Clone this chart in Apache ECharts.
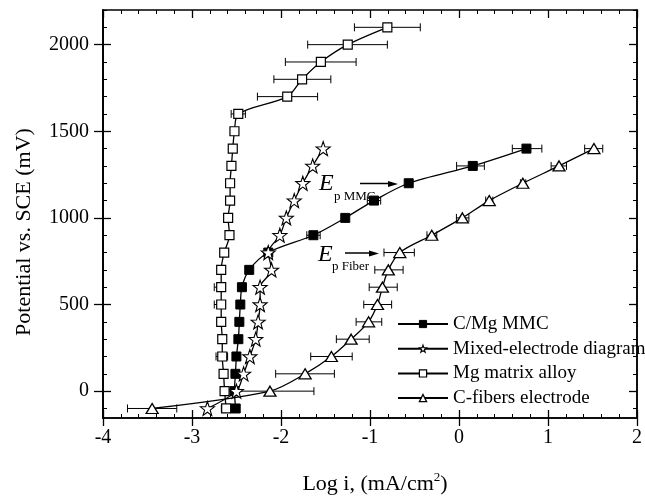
<!DOCTYPE html>
<html><head><meta charset="utf-8">
<script src="https://cdn.jsdelivr.net/npm/echarts@6/dist/echarts.min.js"></script>
<style>html,body{margin:0;padding:0;background:#fff}#c{width:645px;height:497px}</style>
</head><body><div id="c"></div><script>
// ---- data (potential in mV, log i in mA/cm2) ----
const potMg = [-100,0,100,200,300,400,500,600,700,800,900,1000,1100,1200,1300,1400,1500,1600,1700,1800,1900,2000,2100];
const xMg   = [-2.616,-2.634,-2.645,-2.66,-2.66,-2.672,-2.672,-2.672,-2.672,-2.638,-2.579,-2.594,-2.572,-2.572,-2.557,-2.542,-2.523,-2.48,-1.93,-1.763,-1.552,-1.25,-0.805];
const loMg  = [-2.67,null,-2.68,-2.73,-2.69,null,-2.75,-2.75,null,-2.67,-2.61,-2.62,-2.60,-2.60,-2.59,-2.57,-2.55,-2.56,-2.265,-2.08,-1.951,-1.70,-1.175];
const hiMg  = [-2.56,null,-2.61,-2.60,-2.63,null,-2.63,-2.63,null,-2.61,-2.55,-2.57,-2.54,-2.54,-2.52,-2.51,-2.49,-2.40,-1.589,-1.44,-1.156,-0.805,-0.435];

const potMMC = [-100,0,100,200,300,400,500,600,700,800,900,1000,1100,1200,1300,1400];
const xMMC   = [-2.509,-2.523,-2.512,-2.501,-2.479,-2.468,-2.457,-2.439,-2.357,-2.143,-1.636,-1.278,-0.955,-0.565,0.155,0.758];
const loMMC  = [null,null,null,null,null,null,null,null,null,null,-1.71,null,-1.03,null,-0.027,0.599];
const hiMMC  = [null,null,null,null,null,null,null,null,null,null,-1.56,null,-0.88,null,0.285,0.931];

const potMix = [-100,0,100,200,300,400,500,600,700,800,900,1000,1100,1200,1300,1400];
const xMix   = [-2.827,-2.501,-2.42,-2.35,-2.284,-2.257,-2.235,-2.235,-2.106,-2.143,-2.013,-1.94,-1.851,-1.755,-1.644,-1.526];

const potFib = [-100,0,100,200,300,400,500,600,700,800,900,1000,1100,1200,1300,1400];
const xFib   = [-3.448,-2.124,-1.729,-1.434,-1.212,-1.016,-0.916,-0.86,-0.794,-0.665,-0.306,0.038,0.34,0.717,1.124,1.516];
const loFib  = [-3.725,-2.62,-2.06,-1.666,-1.378,-1.156,-1.07,-1.009,-0.946,-0.843,-0.36,-0.029,0.30,0.69,1.035,1.412];
const hiFib  = [-3.171,-1.63,-1.40,-1.20,-1.009,-0.868,-0.757,-0.694,-0.628,-0.502,-0.25,0.111,0.38,0.75,1.208,1.615];

const seriesNames = ['C/Mg MMC','Mixed-electrode diagram','Mg matrix alloy','C-fibers electrode'];
const yMajorTicks = [0,500,1000,1500,2000];
const yMinorTicks = [-100,0,100,200,300,400,500,600,700,800,900,1000,1100,1200,1300,1400,1500,1600,1700,1800,1900,2000,2100,2200];
const xLabel = 'Log i, (mA/cm';
const yLabel = 'Potential vs. SCE (mV)';

// ---- build ----
const pts = (xs, ys) => xs.map((x,i)=>[x, ys[i]]);
const errs = (ys, lo, hi) => { const o=[]; ys.forEach((y,i)=>{ if(lo[i]!=null) o.push([y,lo[i],hi[i]]); }); return o; };
const FONT = 'Liberation Serif';
const starPath = 'path://M0,-10L2.35,-3.24L9.51,-3.09L3.8,1.24L5.88,8.09L0,4L-5.88,8.09L-3.8,1.24L-9.51,-3.09L-2.35,-3.24Z';

function renderErr(params, api){
  const y = api.value(0), lo = api.value(1), hi = api.value(2);
  const p1 = api.coord([lo,y]), p2 = api.coord([hi,y]);
  const h = 4, st = {stroke:'#000', lineWidth:1};
  return {type:'group', children:[
    {type:'line', shape:{x1:p1[0],y1:p1[1],x2:p2[0],y2:p2[1]}, style:st},
    {type:'line', shape:{x1:p1[0],y1:p1[1]-h,x2:p1[0],y2:p1[1]+h}, style:st},
    {type:'line', shape:{x1:p2[0],y1:p2[1]-h,x2:p2[0],y2:p2[1]+h}, style:st}
  ]};
}
const errSeries = (data) => ({type:'custom', renderItem:renderErr, data:data, encode:{x:[1,2], y:0}, z:1, silent:true});

const lineBase = {type:'line', smooth:0.3, lineStyle:{color:'#000', width:1.3}, z:3, emphasis:{disabled:true}};

const chart = echarts.init(document.getElementById('c'), null, {renderer:'canvas'});
const xCommon = {type:'value', min:-4, max:2, interval:1, splitLine:{show:false}, axisLine:{onZero:false, lineStyle:{color:'#000', width:1.5}}};
const yCommon = {type:'value', min:-155, max:2200, splitLine:{show:false}, axisLine:{onZero:false, lineStyle:{color:'#000', width:1.5}}};
const styles = [
  {color:'#000', borderColor:'#000', borderWidth:1},
  {color:'#fff', borderColor:'#000', borderWidth:1.1},
  {color:'#fff', borderColor:'#000', borderWidth:1.2},
  {color:'#fff', borderColor:'#000', borderWidth:1.3}
];
const icons = ['rect', starPath, 'rect', 'triangle'];

chart.setOption({
  animation:false,
  backgroundColor:'#fff',
  grid:{left:103, right:1, top:10, bottom:79, containLabel:false},
  xAxis:[
    Object.assign({}, xCommon, {position:'bottom', axisTick:{inside:false, length:8, lineStyle:{color:'#000', width:1.3}},
      axisLabel:{color:'#000', fontFamily:FONT, fontSize:20, margin:10}}),
    Object.assign({}, xCommon, {position:'bottom', axisTick:{inside:true, length:8, lineStyle:{color:'#000', width:1.3}},
      minorTick:{show:true, splitNumber:5, length:4, lineStyle:{color:'#000', width:1}}, axisLabel:{show:false}}),
    Object.assign({}, xCommon, {position:'top', axisTick:{inside:true, length:8, lineStyle:{color:'#000', width:1.3}},
      minorTick:{show:true, splitNumber:5, length:4, lineStyle:{color:'#000', width:1}}, axisLabel:{show:false}})
  ],
  yAxis:[
    Object.assign({}, yCommon, {position:'left', axisTick:{inside:false, length:9, customValues:yMajorTicks, lineStyle:{color:'#000', width:1.3}},
      axisLabel:{color:'#000', fontFamily:FONT, fontSize:20, margin:14, customValues:yMajorTicks, formatter:(v)=>String(v)}}),
    Object.assign({}, yCommon, {position:'left', axisTick:{inside:true, length:8, customValues:yMajorTicks, lineStyle:{color:'#000', width:1.3}}, axisLabel:{show:false}}),
    Object.assign({}, yCommon, {position:'left', axisTick:{inside:true, length:4, customValues:yMinorTicks, lineStyle:{color:'#000', width:1}}, axisLabel:{show:false}}),
    Object.assign({}, yCommon, {position:'right', axisTick:{inside:true, length:8, customValues:yMajorTicks, lineStyle:{color:'#000', width:1.3}}, axisLabel:{show:false}}),
    Object.assign({}, yCommon, {position:'right', axisTick:{inside:true, length:4, customValues:yMinorTicks, lineStyle:{color:'#000', width:1}}, axisLabel:{show:false}})
  ],
  legend:{
    data:seriesNames.map((n,i)=>({name:n, itemStyle:styles[i]})),
    orient:'vertical', left:392, top:309, itemWidth:50, itemHeight:9, itemGap:4.7,
    textStyle:{color:'#000', fontFamily:FONT, fontSize:19, lineHeight:20}, selectedMode:false
  },
  series:[
    errSeries(errs(potMg, loMg, hiMg)),
    errSeries(errs(potMMC, loMMC, hiMMC)),
    errSeries(errs(potFib, loFib, hiFib)),
    Object.assign({}, lineBase, {name:seriesNames[0], data:pts(xMMC,potMMC), symbol:icons[0], symbolSize:9, itemStyle:styles[0]}),
    Object.assign({}, lineBase, {name:seriesNames[1], data:pts(xMix,potMix), symbol:icons[1], symbolSize:14, itemStyle:styles[1]}),
    Object.assign({}, lineBase, {name:seriesNames[2], data:pts(xMg,potMg), symbol:icons[2], symbolSize:9, itemStyle:styles[2]}),
    Object.assign({}, lineBase, {name:seriesNames[3], data:pts(xFib,potFib), symbol:icons[3], symbolSize:[12,10], itemStyle:styles[3]})
  ],
  graphic:[
    {type:'text', x:375, y:484, style:{text:xLabel+'{sup|2})', rich:{sup:{fontSize:13, verticalAlign:'top', padding:[0,0,12,0], fontFamily:FONT, fill:'#000'}}, font:'22px "Liberation Serif"', fill:'#000', align:'center', verticalAlign:'middle'}},
    {type:'text', x:24, y:232, rotation:Math.PI/2, style:{text:yLabel, font:'22px "Liberation Serif"', fill:'#000', align:'center', verticalAlign:'middle'}},
    {type:'text', x:319, y:172, style:{text:'E', font:'italic 24px "Liberation Serif"', fill:'#000'}},
    {type:'text', x:334, y:190, style:{text:'p MMC', font:'13px "Liberation Serif"', fill:'#000'}},
    {type:'line', shape:{x1:360,y1:183.5,x2:392,y2:183.5}, style:{stroke:'#000', lineWidth:1.5}},
    {type:'polygon', shape:{points:[[398,184],[388,181],[388,187]]}, style:{fill:'#000'}},
    {type:'text', x:318, y:243, style:{text:'E', font:'italic 24px "Liberation Serif"', fill:'#000'}},
    {type:'text', x:332, y:260, style:{text:'p Fiber', font:'13px "Liberation Serif"', fill:'#000'}},
    {type:'line', shape:{x1:345,y1:253,x2:373,y2:253}, style:{stroke:'#000', lineWidth:1.5}},
    {type:'polygon', shape:{points:[[379,253.5],[369,250.5],[369,256.5]]}, style:{fill:'#000'}}
  ]
});
</script></body></html>
